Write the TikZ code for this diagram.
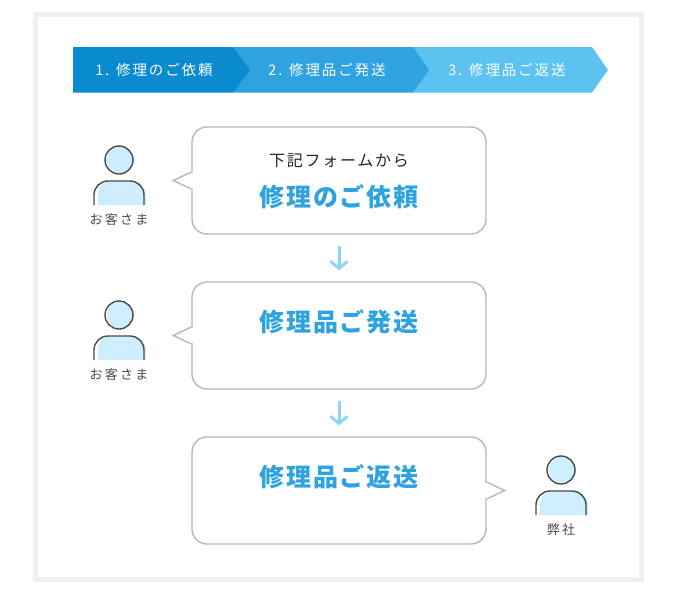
\documentclass[tikz,border=0pt]{standalone}
\usepackage{fontspec}
\usepackage{tikz}
\usetikzlibrary{arrows.meta, positioning}
\setmainfont{Noto Sans CJK JP}
\newfontfamily\stepfont[LetterSpace=13]{Noto Sans CJK JP}
\newfontfamily\thinfont[LetterSpace=11]{Noto Sans CJK JP}
\newfontfamily\whofont[LetterSpace=17]{Noto Sans CJK JP}
\newfontfamily\headfont[LetterSpace=7]{Noto Sans CJK JP}
\definecolor{stepone}{HTML}{0A8BD0}
\definecolor{steptwo}{HTML}{2EA3DF}
\definecolor{stepthree}{HTML}{5CC3F0}
\definecolor{skinblue}{HTML}{CDEEFF}
\definecolor{inkgrey}{HTML}{4A4A4A}
\tikzset{
  steplabel/.style={text=white, inner sep=0pt, font=\stepfont\fontsize{14.5}{14.5}\selectfont},
  bubble/.style={draw=black!28, line width=1.4pt, fill=white, rounded corners=15pt, minimum width=294pt, minimum height=107pt, inner sep=0pt},
  bubbletail/.style={draw=black!28, line width=1.4pt, fill=white, line join=miter},
  headline/.style={text=steptwo, inner sep=0pt, font=\headfont\bfseries\fontsize{25}{25}\selectfont},
  subline/.style={text=black!85, inner sep=0pt, font=\thinfont\fontsize{16}{16}\selectfont},
  flowarrow/.style={draw=stepthree!70, line width=3pt, -{Straight Barb[length=7pt,width=17pt]}, shorten >=11pt, shorten <=11pt},
  whotext/.style={text=inkgrey, inner sep=0pt, font=\whofont\fontsize{13}{13}\selectfont},
  personline/.style={draw=inkgrey, line width=1.4pt}
}
% one person: #1 x of the head, #2 y of the head
\newcommand{\personmark}[2]{
  \fill[skinblue] (#1+1.5,#2) circle (13.5);
  \draw[personline] (#1,#2) circle (14);
  \fill[skinblue] (#1-21,#2+45) -- (#1-21,#2+34) arc[start angle=180, end angle=270, radius=13] -- (#1+13,#2+21) arc[start angle=270, end angle=360, radius=14] -- (#1+27,#2+45) -- cycle;
  \draw[personline] (#1-25,#2+45) -- (#1-25,#2+35) arc[start angle=180, end angle=270, radius=14] -- (#1+11,#2+21) arc[start angle=270, end angle=360, radius=14] -- (#1+25,#2+45);
}
\begin{document}
\begin{tikzpicture}[x=1pt, y=-1pt]
  \useasboundingbox (0,0) rectangle (688,595);
  \fill[white] (0,0) rectangle (688,595);
  \draw[black!6, line width=5pt] (35.5,14.5) rectangle (641.5,579.5);

  % step bar, last one first
  \fill[stepthree] (413,47) -- (592,47) -- (608,70) -- (592,92.5) -- (413,92.5) -- cycle;
  \fill[steptwo] (233,47) -- (413,47) -- (429,70) -- (413,92.5) -- (233,92.5) -- cycle;
  \fill[stepone] (73,47) -- (233,47) -- (250,70) -- (233,92.5) -- (73,92.5) -- cycle;
  \node[steplabel] (stepa) at (154,70) {1. 修理のご依頼};
  \node[steplabel] (stepb) at (327,70) {2. 修理品ご発送};
  \node[steplabel] (stepc) at (507,70) {3. 修理品ご返送};

  % speech bubbles
  \node[bubble] (order) at (339,180.5) {};
  \node[bubble] (send) at (339,335.5) {};
  \node[bubble] (back) at (339,490.5) {};
  \foreach \b in {order, send}{
    \draw[bubbletail] ([yshift=8.5pt]\b.west) -- ++(-18,8.5) -- ++(18,8.5);
    \fill[white] ([xshift=-.2pt,yshift=7.8pt]\b.west) rectangle ([xshift=1.5pt,yshift=-7.8pt]\b.west);
  }
  \draw[bubbletail] ([yshift=8.5pt]back.east) -- ++(18,8.5) -- ++(-18,8.5);
  \fill[white] ([xshift=-1.5pt,yshift=7.8pt]back.east) rectangle ([xshift=.2pt,yshift=-7.8pt]back.east);

  \node[subline] (formnote) at (339,161) {下記フォームから};
  \node[headline] (ordertext) at (339,197) {修理のご依頼};
  \node[headline] (sendtext) at (339,322) {修理品ご発送};
  \node[headline] (backtext) at (339,477) {修理品ご返送};

  \draw[flowarrow] (order) -- (send);
  \draw[flowarrow] (send) -- (back);

  % people
  \personmark{119}{160}
  \personmark{119}{315}
  \personmark{561}{470}
  \node[whotext] (guesta) at (119,220) {お客さま};
  \node[whotext] (guestb) at (119,375) {お客さま};
  \node[whotext] (shop) at (561,530) {弊社};
\end{tikzpicture}
\end{document}
